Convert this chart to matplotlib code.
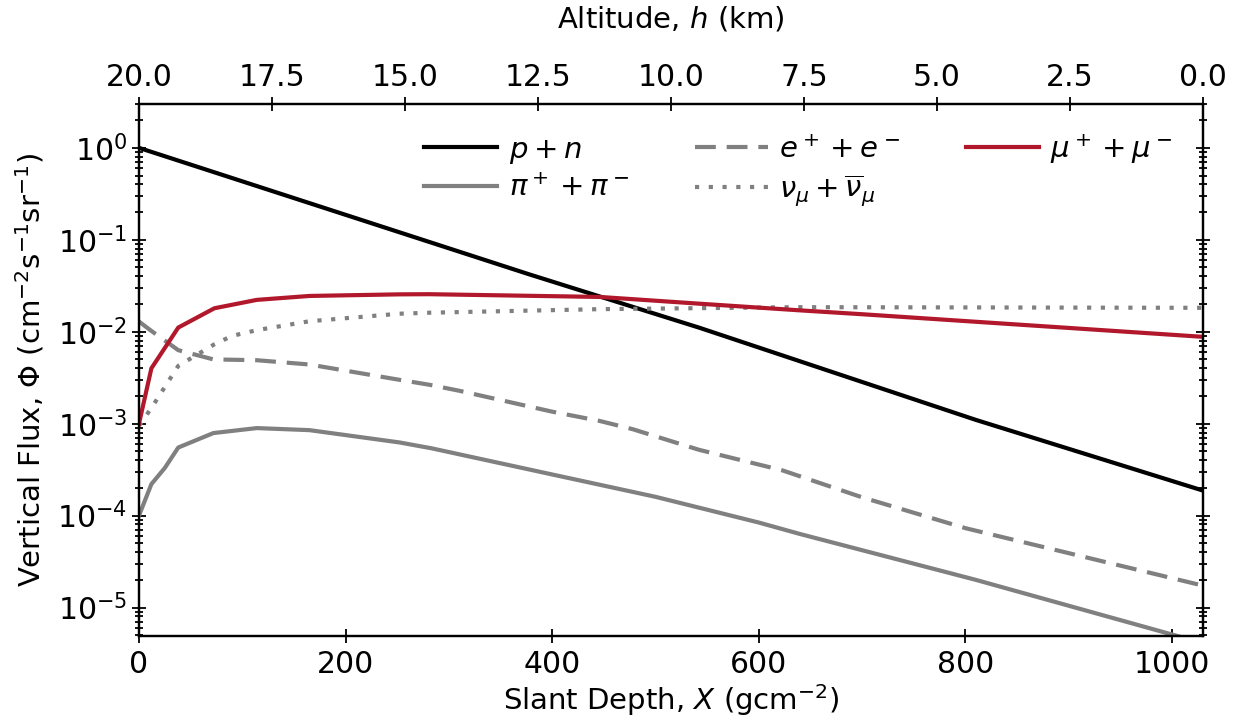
import matplotlib
matplotlib.use("Agg")
import matplotlib.pyplot as plt
from matplotlib.ticker import MultipleLocator, FormatStrFormatter

# ---- data ----
x_pn = [0, 378, 543, 810, 1030]
y_pn = [1.0, 4.2e-2, 1.1e-2, 1.1e-3, 1.87e-4]

x_pi = [0, 12, 25, 38, 72, 114, 165, 252, 283, 400, 500, 600, 640, 810, 1030]
y_pi = [1.0e-4, 2.2e-4, 3.3e-4, 5.5e-4, 7.9e-4, 8.95e-4, 8.5e-4, 6.25e-4,
        5.4e-4, 2.8e-4, 1.6e-4, 8.4e-5, 6.3e-5, 2.0e-5, 4.1e-6]

x_e = [0, 12, 38, 72, 114, 165, 252, 281, 310, 400, 446, 478, 542, 623, 700, 800, 1030]
y_e = [1.29e-2, 1.02e-2, 6.3e-3, 5.0e-3, 4.9e-3, 4.4e-3, 3.0e-3, 2.65e-3, 2.28e-3,
       1.35e-3, 1.07e-3, 8.7e-4, 5.2e-4, 3.1e-4, 1.58e-4, 7.3e-5, 1.73e-5]

x_nu = [0, 12, 38, 73, 90, 114, 165, 252, 281, 446, 639, 1030]
y_nu = [9.5e-4, 1.48e-3, 4.25e-3, 7.3e-3, 9.0e-3, 1.04e-2, 1.3e-2, 1.57e-2,
        1.61e-2, 1.76e-2, 1.85e-2, 1.82e-2]

x_mu = [0, 12, 38, 73, 114, 165, 252, 281, 446, 542, 639, 700, 1030]
y_mu = [1.0e-3, 4.0e-3, 1.11e-2, 1.8e-2, 2.22e-2, 2.45e-2, 2.55e-2, 2.56e-2,
        2.39e-2, 2.02e-2, 1.71e-2, 1.55e-2, 8.8e-3]

labels = [r"$p + n$", r"$\pi^+ + \pi^-$", r"$e^+ + e^-$",
          r"$\nu_\mu + \overline{\nu}_\mu$", r"$\mu^+ + \mu^-$"]

alt_ticks = [20.0, 17.5, 15.0, 12.5, 10.0, 7.5, 5.0, 2.5, 0.0]

# ---- figure ----
FS = 21
TFS = 21.5
plt.rcParams['font.family'] = ['DejaVu Sans']
plt.rcParams['font.size'] = FS

W, H = 1237, 723
fig = plt.figure(figsize=(W / 100, H / 100), dpi=100)
ax = fig.add_axes([139 / W, 1 - 636 / H, (1203 - 139) / W, (636 - 104) / H])

red = '#b2182b'
gray = '#808080'
lw = 3.0

ax.plot(x_pn, y_pn, color='black', lw=lw, label=labels[0])
ax.plot(x_pi, y_pi, color=gray, lw=lw, label=labels[1])
ax.plot(x_e, y_e, color=gray, lw=lw, ls=(0, (5, 2.6)), label=labels[2])
ax.plot(x_nu, y_nu, color=gray, lw=lw, ls=(0, (1, 2.3)), label=labels[3])
ax.plot(x_mu, y_mu, color=red, lw=lw, label=labels[4])

ax.set_yscale('log')
ax.set_xlim(0, 1030)
ax.set_ylim(4.9e-6, 3.0)
ax.xaxis.set_major_locator(MultipleLocator(200))

for sp in ax.spines.values():
    sp.set_linewidth(1.6)

ax.tick_params(which='both', direction='inout', top=False, right=True,
               labelsize=TFS, width=1.3)
ax.tick_params(which='major', length=10)
ax.tick_params(which='minor', length=6)
ax.tick_params(axis='x', which='minor', bottom=False)
ax.tick_params(axis='x', pad=5)

ax.set_xlabel(r"Slant Depth, $X$ (gcm$^{-2}$)", fontsize=FS, labelpad=2)
ax.set_ylabel(r"Vertical Flux, $\Phi$ (cm$^{-2}$s$^{-1}$sr$^{-1}$)", fontsize=FS, labelpad=8)

ax2 = ax.twiny()
ax2.set_xlim(20, 0)
ax2.set_xticks(alt_ticks)
ax2.xaxis.set_major_formatter(FormatStrFormatter('%.1f'))
ax2.tick_params(which='major', direction='inout', length=10, width=1.3, labelsize=TFS)
for sp in ax2.spines.values():
    sp.set_linewidth(1.6)
ax2.set_xlabel(r"Altitude, $h$ (km)", fontsize=FS, labelpad=26)

leg = ax.legend(ncol=3, loc='upper center', bbox_to_anchor=(0.62, 0.997),
                frameon=False, fontsize=FS, handlelength=2.5,
                columnspacing=2.25, handletextpad=0.4, labelspacing=0.3)

fig.savefig("out.png", dpi=100)
